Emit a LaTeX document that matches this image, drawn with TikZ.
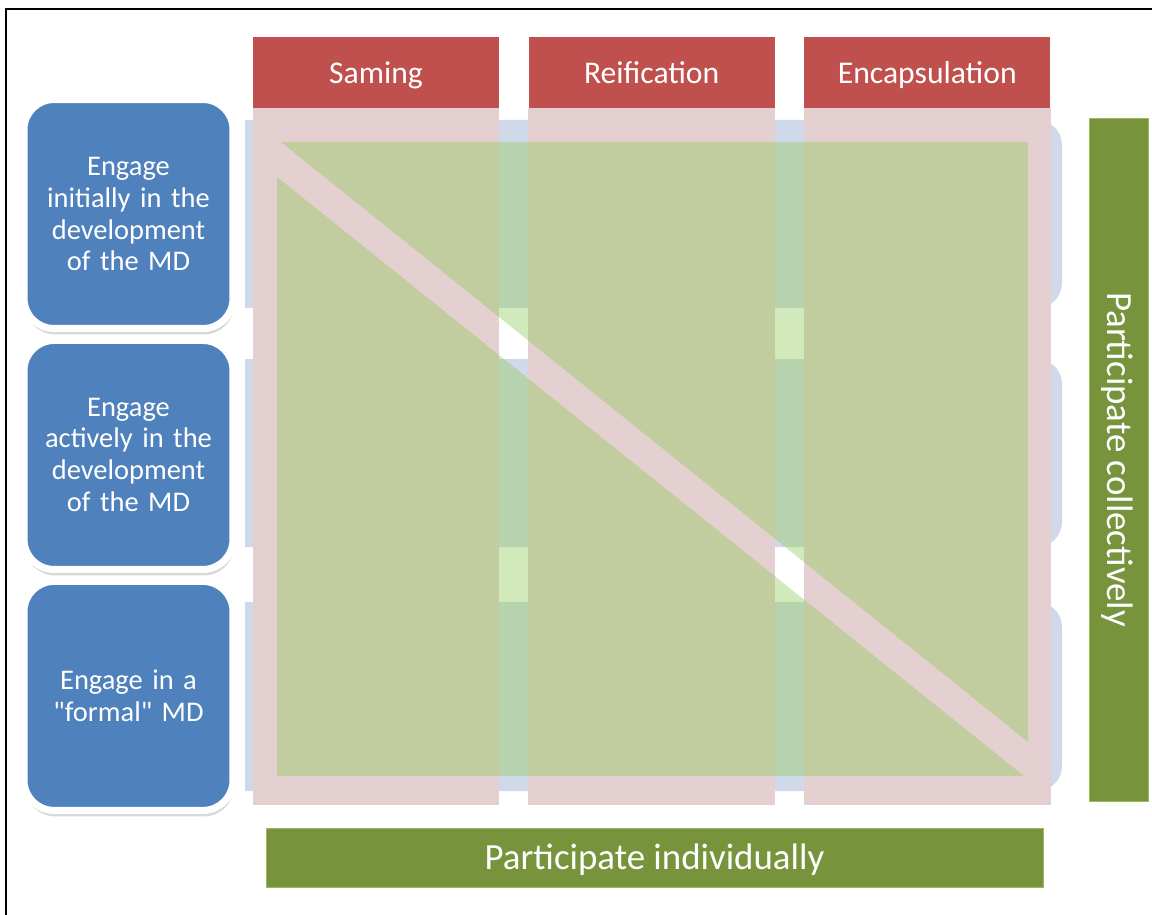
\documentclass[tikz,border=0pt]{standalone}
\usepackage{fontspec}
\setmainfont{Carlito}[Ligatures=TeXOff]
\usetikzlibrary{positioning,shadows}
\definecolor{headerred}{RGB}{192,80,77}
\definecolor{columnpink}{RGB}{229,208,209}
\definecolor{rowblue}{RGB}{208,217,234}
\definecolor{boxblue}{RGB}{79,129,189}
\definecolor{crossgreen}{RGB}{143,202,85}
\definecolor{bargreen}{RGB}{119,147,60}
\definecolor{barrim}{RGB}{155,187,89}
\tikzset{
  header/.style={
    fill=headerred,
    text=white,
    minimum width=4.92cm,
    minimum height=1.42cm,
    inner sep=0pt,
    text height=0.43cm,
    text depth=0pt,
    font=\fontsize{18}{21}\selectfont
  },
  engage/.style={
    rounded corners=0.6cm,
    draw=white,
    line width=0.14cm,
    fill=boxblue,
    text=white,
    align=center,
    text width=3.9cm,
    minimum width=4.18cm,
    minimum height=4.58cm,
    inner sep=0pt,
    drop shadow={shadow xshift=0.02cm, shadow yshift=-0.12cm, opacity=0.25, fill=black!60},
    font=\fontsize{16.2}{18.2}\selectfont
  },
  rowband/.style={fill=rowblue},
  colband/.style={fill=columnpink},
  cross/.style={fill=crossgreen, fill opacity=0.4},
  bar/.style={
    fill=bargreen,
    draw=barrim,
    line width=0.5pt,
    text=white,
    minimum height=1.18cm,
    inner sep=0pt,
    text height=0.47cm,
    text depth=0pt,
    font=\fontsize{21}{25}\selectfont
  }
}

\begin{document}
\begin{tikzpicture}[x=0.02cm, y=-0.02cm, node distance=0.58cm]
\useasboundingbox (0,0) rectangle (1152,915);
\draw[line width=0.05cm] (6,915) -- (6,9) -- (1152,9);

% column headers
\node[header] (saming) at (376,72.5) {Saming};
\node[header, right=of saming] (reification) {Reification};
\node[header, right=of reification] (encapsulation) {Encapsulation};

% rows behind the grid
\foreach \top/\bot in {120/308, 359/547, 602/791}
  \fill[rowband] (245,\top) -- (1037,\top) arc[start angle=-90, end angle=0, radius=25]
    -- (1062,{\bot-25}) arc[start angle=0, end angle=90, radius=25] -- (245,\bot) -- cycle;

% columns
\coordinate (colbottom) at (0,805);
\foreach \c in {saming,reification,encapsulation}
  \fill[colband] (\c.south west) rectangle (\c.east |- colbottom);

% crossed-out overlay
\fill[cross] (281,142) -- (1028,142) -- (1028,742) -- cycle;
\fill[cross] (277,177) -- (277,776) -- (1024,776) -- cycle;

% engagement levels
\node[engage] (initially) at (128.5,214) {Engage\\initially in the\\development\\of the MD};
\node[engage, below=0.1cm of initially] (actively) {Engage\\actively in the\\development\\of the MD};
\node[engage, below=0.1cm of actively] (formal) {Engage in a\\"formal" MD};

% participation bars
\node[bar, minimum width=15.54cm] (individually) at (654.5,857.5) {Participate individually};
\node[bar, rotate=-90, minimum width=13.66cm] (collectively) at (1119,459.5) {Participate collectively};
\end{tikzpicture}
\end{document}
